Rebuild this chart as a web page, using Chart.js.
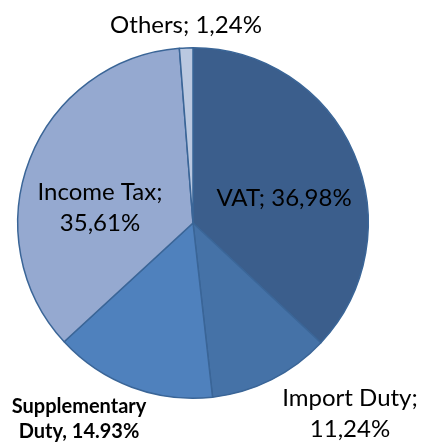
<!DOCTYPE html>
<html lang="en">
<head>
    <meta charset="UTF-8">
    <title>Tax Revenue Share</title>
    <style>
        body {
            margin: 0;
            background: #ffffff;
        }
        #wrap {
            width: 422px;
            height: 442px;
        }
    </style>
</head>
<body>
    <div id="wrap">
        <canvas id="pieChart" width="422" height="442"></canvas>
    </div>
    <script src="https://cdn.jsdelivr.net/npm/chart.js"></script>
    <script>
        // data, clockwise from 12 o'clock
        const categories = ['VAT', 'Import Duty', 'Supplementary Duty', 'Income Tax', 'Others'];
        const shares = [36.98, 11.24, 14.93, 35.61, 1.24];
        const labelTexts = [
            ['VAT; 36,98%'],
            ['Import Duty;', '11,24%'],
            ['Supplementary', 'Duty, 14.93%'],
            ['Income Tax;', '35,61%'],
            ['Others; 1,24%']
        ];

        const sliceColors = ['#3b5e8c', '#4572a7', '#4f81bd', '#95a9d0', '#bac8e0'];

        // where each label sits and how it looks
        const labelSpots = [
            { x: 284, y: 198, gap: 0, font: '24px Lato' },
            { x: 350, y: 398, gap: 31, font: '24px Lato' },
            { x: 79, y: 407, gap: 25, font: 'bold 20px Lato' },
            { x: 100, y: 192, gap: 31, font: '24px Lato' },
            { x: 186, y: 25, gap: 0, font: '24px Lato' }
        ];

        const sliceLabels = {
            id: 'sliceLabels',
            afterDatasetsDraw(chart) {
                const ctx = chart.ctx;
                ctx.save();
                ctx.fillStyle = '#000000';
                ctx.textAlign = 'center';
                ctx.textBaseline = 'middle';
                labelTexts.forEach(function(lines, i) {
                    const spot = labelSpots[i];
                    ctx.font = spot.font;
                    lines.forEach(function(line, j) {
                        ctx.fillText(line, spot.x, spot.y + j * spot.gap);
                    });
                });
                ctx.restore();
            }
        };

        new Chart(document.getElementById('pieChart'), {
            type: 'pie',
            data: {
                labels: categories,
                datasets: [{
                    data: shares,
                    backgroundColor: sliceColors,
                    borderColor: '#3a6597',
                    borderWidth: 1.5
                }]
            },
            options: {
                responsive: false,
                animation: false,
                layout: {
                    padding: { left: 17, top: 47, right: 53, bottom: 43 }
                },
                plugins: {
                    legend: { display: false },
                    tooltip: { enabled: false }
                }
            },
            plugins: [sliceLabels]
        });
    </script>
</body>
</html>
